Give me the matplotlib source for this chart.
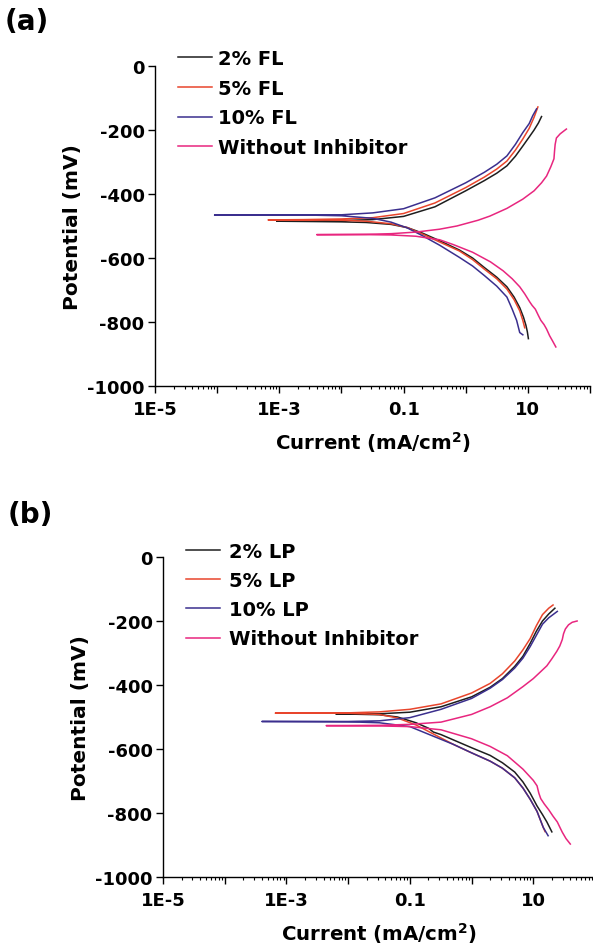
import numpy as np
import matplotlib
matplotlib.use('Agg')
import matplotlib.pyplot as plt
from matplotlib.ticker import LogLocator, FuncFormatter, NullFormatter

plt.rcParams['font.family'] = ['DejaVu Sans']

# ---------------- data (current in mA/cm2, potential in mV) ----------------
# Panel (a): each curve runs cathodic end -> corrosion potential -> anodic end
fl2_i = [10.2, 9.8, 9.3, 8.5, 7.4, 6.0, 4.6, 3.16, 2.0, 1.29, 0.79, 0.38, 0.20, 0.115, 0.063, 0.025, 0.010, 0.0032, 0.00091,
         0.0032, 0.010, 0.032, 0.10, 0.32, 1.0, 2.0, 3.16, 4.6, 6.3, 8.3, 10.5, 12.6, 14.8, 16.6]
fl2_e = [-852, -830, -810, -785, -755, -722, -690, -660, -630, -600, -575, -546, -522, -505, -495, -489, -487, -486, -485,
         -484, -483, -480, -470, -440, -390, -358, -335, -312, -282, -250, -222, -200, -178, -158]

fl5_i = [8.9, 8.3, 7.4, 6.0, 4.6, 3.16, 2.0, 1.29, 0.79, 0.38, 0.20, 0.115, 0.063, 0.025, 0.010, 0.0025, 0.00066,
         0.0025, 0.010, 0.032, 0.10, 0.32, 1.0, 2.0, 3.16, 4.6, 6.3, 8.3, 10.5, 12.6, 14.5]
fl5_e = [-818, -795, -765, -730, -697, -665, -635, -605, -578, -550, -525, -505, -493, -485, -482, -481, -481,
         -480, -478, -474, -461, -428, -380, -347, -322, -297, -263, -228, -195, -160, -128]

fl10_i = [8.3, 7.4, 6.6, 5.6, 4.6, 3.16, 2.0, 1.29, 0.79, 0.38, 0.20, 0.115, 0.063, 0.032, 0.010, 0.0032, 0.000091,
          0.0032, 0.010, 0.032, 0.10, 0.32, 1.0, 2.0, 3.16, 4.6, 6.3, 8.3, 10.5, 12.0, 13.8]
fl10_e = [-840, -833, -795, -760, -722, -688, -655, -625, -598, -560, -530, -506, -488, -476, -468, -466, -466,
          -466, -465, -459, -446, -412, -365, -332, -307, -281, -245, -208, -180, -155, -134]

woa_i = [28.2, 25.1, 22.4, 20.0, 18.2, 16.2, 14.8, 13.2, 11.7, 10.7, 8.9, 7.4, 5.6, 4.0, 2.5, 1.29, 0.63, 0.38, 0.158,
         0.063, 0.025, 0.0040,
         0.025, 0.063, 0.158, 0.38, 0.72, 1.58, 2.45, 4.6, 8.3, 12.6, 16.6, 20.0, 23.4, 26.3, 26.9, 27.5, 28.8, 33.1,
         38.0, 41.7]
woa_e = [-878, -860, -843, -822, -808, -795, -780, -760, -748, -737, -712, -690, -665, -640, -612, -582, -558, -543, -532,
         -528, -527, -527,
         -526, -524, -519, -510, -500, -482, -469, -445, -416, -390, -365, -344, -315, -290, -265, -245, -225, -212,
         -203, -197]

# Panel (b)
lp2_i = [20.0, 16.6, 14.1, 11.5, 8.9, 6.8, 5.0, 3.16, 2.0, 1.0, 0.32, 0.24, 0.20, 0.126, 0.063, 0.032, 0.0063,
         0.032, 0.10, 0.32, 1.0, 2.0, 3.16, 5.0, 6.8, 8.9, 11.2, 14.1, 17.8, 22.4]
lp2_e = [-859, -828, -805, -778, -738, -703, -672, -643, -620, -596, -555, -547, -535, -518, -500, -493, -490,
         -490, -485, -468, -437, -407, -380, -342, -310, -270, -232, -200, -178, -160]

lp5_i = [15.5, 14.5, 11.5, 8.9, 6.8, 5.0, 3.16, 2.0, 1.0, 0.50, 0.24, 0.126, 0.063, 0.032, 0.010, 0.00066,
         0.010, 0.032, 0.10, 0.32, 1.0, 2.0, 3.16, 5.0, 6.8, 8.9, 11.2, 14.1, 17.8, 20.9]
lp5_e = [-858, -845, -795, -757, -722, -690, -660, -638, -612, -585, -553, -525, -503, -492, -488, -488,
         -487, -484, -476, -459, -425, -395, -365, -325, -290, -255, -215, -180, -160, -150]

lp10_i = [17.4, 14.5, 11.5, 8.9, 6.8, 5.0, 3.16, 2.0, 1.0, 0.50, 0.24, 0.10, 0.032, 0.010, 0.0004,
          0.010, 0.032, 0.10, 0.32, 1.0, 2.0, 3.16, 5.0, 6.8, 8.9, 11.2, 14.1, 17.8, 24.5]
lp10_e = [-871, -845, -795, -757, -722, -690, -660, -638, -612, -585, -560, -530, -518, -515, -514,
          -514, -512, -502, -476, -442, -410, -383, -347, -316, -280, -245, -210, -190, -170]

wob_i = [39.8, 33.9, 29.5, 27.5, 24.5, 20.9, 17.8, 15.1, 13.2, 12.3, 11.5, 10.0, 6.8, 3.8, 2.0, 1.0, 0.32, 0.10, 0.032,
         0.0044,
         0.032, 0.10, 0.32, 1.0, 2.0, 3.8, 6.8, 10.0, 12.9, 16.6, 20.0, 24.0, 26.9, 29.5, 30.9, 33.1, 37.2, 42.7, 51.3]
wob_e = [-897, -880, -860, -848, -828, -810, -790, -772, -755, -738, -715, -698, -663, -621, -592, -568, -540, -530, -528,
         -527,
         -526, -523, -516, -492, -468, -440, -405, -380, -360, -340, -318, -295, -278, -258, -240, -225, -212, -204, -200]

labels_a = ['2% FL', '5% FL', '10% FL', 'Without Inhibitor']
labels_b = ['2% LP', '5% LP', '10% LP', 'Without Inhibitor']
xtick_vals = [1e-5, 1e-3, 0.1, 10]
xtick_labels = ['1E-5', '1E-3', '0.1', '10']
ytick_vals = [0, -200, -400, -600, -800, -1000]

colors = ['#1e1e1e', '#e8452c', '#3b2f8e', '#e8267f']

fig = plt.figure(figsize=(5.93, 9.45), dpi=100)
W, H = 593.0, 945.0


def fmt(v, pos):
    for tv, tl in zip(xtick_vals, xtick_labels):
        if abs(np.log10(v) - np.log10(tv)) < 1e-6:
            return tl
    return ''


def setup(ax):
    ax.set_xscale('log')
    ax.set_xlim(1e-5, 100)
    ax.set_ylim(-1000, 0)
    for s in ('top', 'right'):
        ax.spines[s].set_visible(False)
    for s in ('left', 'bottom'):
        ax.spines[s].set_linewidth(1.0)
    ax.xaxis.set_major_locator(LogLocator(base=10, numticks=20))
    ax.xaxis.set_minor_locator(LogLocator(base=10, subs=np.arange(2, 10), numticks=20))
    ax.xaxis.set_minor_formatter(NullFormatter())
    ax.xaxis.set_major_formatter(FuncFormatter(fmt))
    ax.set_yticks(ytick_vals)
    ax.set_yticklabels([str(v) for v in ytick_vals])
    ax.tick_params(which='major', length=5, width=1, direction='out', labelsize=13)
    ax.tick_params(axis='x', which='major', pad=5)
    ax.tick_params(axis='y', which='major', pad=2.5)
    ax.tick_params(which='minor', length=2.5, width=0.8, direction='out')
    for lab in ax.get_xticklabels() + ax.get_yticklabels():
        lab.set_fontweight('bold')
    ax.set_xlabel('Current (mA/cm$^\\mathbf{2}$)', fontsize=14.2, fontweight='bold', labelpad=8)
    ax.set_ylabel('Potential (mV)', fontsize=14.5, fontweight='bold', labelpad=4)


# panel (a)
ax1 = fig.add_axes([155 / W, 1 - 387 / H, 435 / W, 320 / H])
setup(ax1)
for (xi, ye), lab, c in zip([(fl2_i, fl2_e), (fl5_i, fl5_e), (fl10_i, fl10_e), (woa_i, woa_e)], labels_a, colors):
    ax1.plot(xi, ye, color=c, lw=1.1, label=lab)
ax1.legend(loc='upper left', bbox_to_anchor=(178 / W, 1 - 50 / H), bbox_transform=fig.transFigure,
           frameon=False, prop={'weight': 'bold', 'size': 14}, handlelength=1.75, handletextpad=0.31,
           labelspacing=0.55, borderpad=0, borderaxespad=0)

# panel (b)
ax2 = fig.add_axes([163 / W, 1 - 878 / H, 432 / W, 320 / H])
setup(ax2)
for (xi, ye), lab, c in zip([(lp2_i, lp2_e), (lp5_i, lp5_e), (lp10_i, lp10_e), (wob_i, wob_e)], labels_b, colors):
    ax2.plot(xi, ye, color=c, lw=1.1, label=lab)
ax2.legend(loc='upper left', bbox_to_anchor=(186 / W, 1 - 543 / H), bbox_transform=fig.transFigure,
           frameon=False, prop={'weight': 'bold', 'size': 14}, handlelength=1.75, handletextpad=0.46,
           labelspacing=0.52, borderpad=0, borderaxespad=0)

fig.text(5 / W, 1 - 22 / H, '(a)', fontsize=20, fontweight='bold', va='center', ha='left')
fig.text(8 / W, 1 - 515 / H, '(b)', fontsize=20, fontweight='bold', va='center', ha='left')

fig.savefig('out.png', dpi=100)
